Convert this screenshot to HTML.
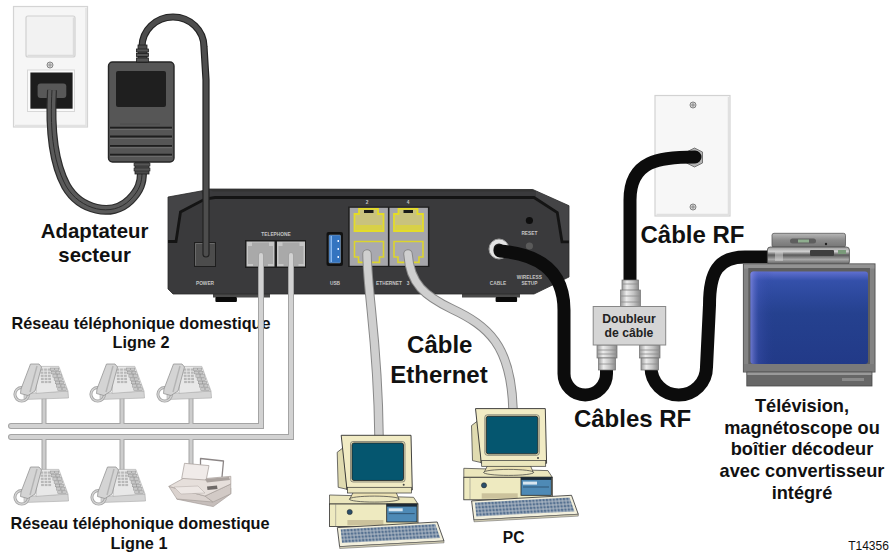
<!DOCTYPE html>
<html><head><meta charset="utf-8">
<style>
html,body{margin:0;padding:0;background:#fff;width:895px;height:557px;overflow:hidden}
svg{display:block}
text{font-family:"Liberation Sans",sans-serif;font-weight:bold;fill:#111}
.lbl{font-size:4.8px;fill:#c4c4c4;font-weight:bold}
</style></head><body>
<svg width="895" height="557" viewBox="0 0 895 557">
<defs>
 <linearGradient id="tvg" x1="0" y1="0" x2="0" y2="1">
  <stop offset="0" stop-color="#8a8a8a"/><stop offset="1" stop-color="#5a5a5a"/>
 </linearGradient>
 <linearGradient id="scr" x1="0" y1="0" x2="0" y2="1">
  <stop offset="0" stop-color="#6070d0"/><stop offset="0.1" stop-color="#3450aa"/><stop offset="0.45" stop-color="#25418f"/><stop offset="1" stop-color="#223a88"/>
 </linearGradient>
 <linearGradient id="scrL" x1="0" y1="0" x2="1" y2="0">
  <stop offset="0" stop-color="#8a90e8" stop-opacity="0.7"/><stop offset="0.07" stop-color="#5060c8" stop-opacity="0.25"/><stop offset="0.2" stop-color="#3040a0" stop-opacity="0"/>
 </linearGradient>
 <linearGradient id="stb2" x1="0" y1="0" x2="0" y2="1">
  <stop offset="0" stop-color="#b8b8b8"/><stop offset="0.5" stop-color="#8a8a8a"/><stop offset="1" stop-color="#767676"/>
 </linearGradient>
 <linearGradient id="metal" x1="0" y1="0" x2="1" y2="0">
  <stop offset="0" stop-color="#9a9a9a"/><stop offset="0.3" stop-color="#ececec"/><stop offset="0.65" stop-color="#c4c4c4"/><stop offset="1" stop-color="#8a8a8a"/>
 </linearGradient>
 <linearGradient id="tvb" x1="0" y1="0" x2="0" y2="1">
  <stop offset="0" stop-color="#9a9a9a"/><stop offset="1" stop-color="#6e6e6e"/>
 </linearGradient>
 <linearGradient id="stb" x1="0" y1="0" x2="0" y2="1">
  <stop offset="0" stop-color="#9a9a9a"/><stop offset="0.25" stop-color="#d0d0d0"/><stop offset="0.45" stop-color="#5a5a5a"/><stop offset="0.7" stop-color="#a8a8a8"/><stop offset="1" stop-color="#555"/>
 </linearGradient>
 <g id="phone">
 <polygon points="11,30.5 55,28 55.5,35 11,36.5" fill="#d4d4d4" stroke="#a8a8a8" stroke-width="0.6"/>
 <polygon points="24.7,3.4 45.8,3.4 55,28 23,30.4" fill="#e8e8e8" stroke="#a8a8a8" stroke-width="0.6"/>
 <g fill="#b8b8b8">
  <rect x="27.5" y="5.5" width="2.8" height="2.2"/>
  <rect x="31.1" y="5.5" width="2.8" height="2.2"/>
  <rect x="34.7" y="5.5" width="2.8" height="2.2"/>
  <rect x="27.6" y="8.6" width="2.8" height="2.2"/>
  <rect x="31.2" y="8.6" width="2.8" height="2.2"/>
  <rect x="34.9" y="8.6" width="2.8" height="2.2"/>
  <rect x="27.8" y="11.7" width="2.8" height="2.2"/>
  <rect x="31.4" y="11.7" width="2.8" height="2.2"/>
  <rect x="35.0" y="11.7" width="2.8" height="2.2"/>
  <rect x="27.9" y="14.8" width="2.8" height="2.2"/>
  <rect x="31.6" y="14.8" width="2.8" height="2.2"/>
  <rect x="35.2" y="14.8" width="2.8" height="2.2"/>
  <rect x="28.1" y="17.9" width="2.8" height="2.2"/>
  <rect x="31.7" y="17.9" width="2.8" height="2.2"/>
  <rect x="35.3" y="17.9" width="2.8" height="2.2"/>
 </g>
 <g fill="#c8c8c8" stroke="#8c8c8c" stroke-width="0.45">
  <rect x="37.4" y="5.0" width="4" height="2.6"/>
  <rect x="41.8" y="5.0" width="4" height="2.6"/>
  <rect x="38.6" y="8.3" width="4" height="2.6"/>
  <rect x="43.0" y="8.3" width="4" height="2.6"/>
  <rect x="39.9" y="11.6" width="4" height="2.6"/>
  <rect x="44.3" y="11.6" width="4" height="2.6"/>
  <rect x="41.1" y="14.9" width="4" height="2.6"/>
  <rect x="45.5" y="14.9" width="4" height="2.6"/>
  <rect x="42.3" y="18.2" width="4" height="2.6"/>
  <rect x="46.7" y="18.2" width="4" height="2.6"/>
  <rect x="43.6" y="21.5" width="4" height="2.6"/>
  <rect x="48.0" y="21.5" width="4" height="2.6"/>
  <rect x="44.8" y="24.8" width="4" height="2.6"/>
  <rect x="49.2" y="24.8" width="4" height="2.6"/>
 </g>
 <circle cx="8.7" cy="31.3" r="6.8" fill="none" stroke="#a6a6a6" stroke-width="3"/>
 <circle cx="8.7" cy="31.3" r="6.8" fill="none" stroke="#d6d6d6" stroke-width="1.2"/>
 <polygon points="17.5,1 26,1 28.5,4 22,28 15,32.5 7.5,30.5 8,26" fill="#d4d4d4" stroke="#949494" stroke-width="0.8"/>
 <line x1="24" y1="3" x2="17" y2="29" stroke="#b4b4b4" stroke-width="1.4"/>
 </g>
 <pattern id="keys" x="0" y="0" width="3.4" height="3.6" patternUnits="userSpaceOnUse" patternTransform="skewY(-3.2) skewX(8)">
  <rect width="3.4" height="3.6" fill="#b4bec8"/><rect x="0.5" y="0.5" width="2.5" height="2.6" fill="#557090"/>
 </pattern>
 <g id="pc">
  <!-- base -->
  <polygon points="-10.2,59.7 73.9,62 78.3,68.7 -10.2,68.7" fill="#ebe6bc" stroke="#3a3a3a" stroke-width="0.7"/>
  <rect x="-10.2" y="68.7" width="88.5" height="22.5" fill="#eeeac0" stroke="#2e2e2e" stroke-width="0.8"/>
  <line x1="-4" y1="68.7" x2="-4" y2="91.2" stroke="#777" stroke-width="0.5"/>
  <rect x="47" y="68.7" width="30.3" height="18" fill="#4e8ab6" stroke="#222" stroke-width="0.8"/>
  <rect x="47" y="68.7" width="30.3" height="2.6" fill="#1c2a36"/>
  <rect x="49" y="73" width="14" height="3" fill="#d8e6f0"/>
  <rect x="49" y="78" width="26" height="0.8" fill="#2a4a66"/>
  <circle cx="10" cy="76.7" r="2.6" fill="#2a4e6a" stroke="#222" stroke-width="0.5"/>
  <rect x="7.7" y="84.7" width="36" height="5.4" fill="#cbc29c"/>
  <!-- stand -->
  <polygon points="14,56 56,56 59.3,64 10,64" fill="#ede3b4" stroke="#3a3a3a" stroke-width="0.7"/>
  <ellipse cx="34.6" cy="63.8" rx="25" ry="3" fill="#ece7bf" stroke="#3a3a3a" stroke-width="0.7"/>
  <!-- monitor -->
  <polygon points="-2.5,17 4,12 7.3,54 -1.5,52" fill="#e0dbb0" stroke="#333" stroke-width="0.7"/>
  <polygon points="1.5,0 71.3,0 72.6,54.7 7.3,54.7" fill="#f1ebc4" stroke="#2e2e2e" stroke-width="0.9"/>
  <rect x="7.7" y="52" width="64" height="5.7" fill="#ebe6bd" stroke="#333" stroke-width="0.7"/>
  <rect x="10.8" y="6.2" width="54.5" height="40.5" rx="2.5" fill="#e2ddb4" stroke="#555" stroke-width="0.6"/>
  <rect x="12.3" y="7.7" width="51.5" height="37.5" rx="2" fill="#05566f" stroke="#222" stroke-width="0.8"/>
  <circle cx="64" cy="49.5" r="1" fill="#444"/>
  <!-- keyboard -->
  <polygon points="-2.4,92.3 97.5,86.7 104.3,105.7 -0.1,111.4" fill="#f2efdc" stroke="#2e2e2e" stroke-width="0.8"/>
  <polygon points="1,94 95.5,88.8 100.5,102.8 2.3,107.8" fill="url(#keys)"/>
  <polygon points="-0.1,111.4 104.3,105.7 104.3,107.5 0,113.2" fill="#d8d3b8" stroke="#555" stroke-width="0.5"/>
 </g>
</defs>

<!-- ===== left wall outlet ===== -->
<rect x="13.5" y="6.5" width="74" height="120.5" fill="#f6f6f6" stroke="#d4d4d4" stroke-width="1.2"/>
<path d="M15 125.5 L86 125.5 L86 8" fill="none" stroke="#e2e2e2" stroke-width="1.5"/>
<rect x="26" y="16" width="49" height="41" rx="2" fill="#f2f2f2" stroke="#d0d0d0" stroke-width="1.2"/>
<path d="M27.5 55.5 L73.5 55.5 L73.5 17.5" fill="none" stroke="#dcdcdc" stroke-width="1.4"/>
<circle cx="50" cy="65" r="3" fill="#d8d8d8" stroke="#7a7a7a" stroke-width="0.9"/>
<path d="M48 65 L52 65 M50 63 L50 67" stroke="#777" stroke-width="0.6"/>
<rect x="27.5" y="70" width="47" height="41.5" fill="#fafafa" stroke="#d8d8d8" stroke-width="1"/>
<rect x="30.4" y="72.5" width="42.2" height="36.2" fill="#1c1c1c"/>
<rect x="37.6" y="83.6" width="28.7" height="14.4" rx="3" fill="#585858"/>

<!-- cord outlet -> adapter -->
<g fill="none">
<path d="M52 90 C50 125 52 160 66 186 C80 210 112 218 130 200 C140 190 142 182 142 172" stroke="#2c2c2c" stroke-width="10"/>
<path d="M52 90 C50 125 52 160 66 186 C80 210 112 218 130 200 C140 190 142 182 142 172" stroke="#5a5a5a" stroke-width="7.6"/>
<path d="M52 90 C50 125 52 160 66 186 C80 210 112 218 130 200 C140 190 142 182 142 172" stroke="#2c2c2c" stroke-width="1"/>
</g>

<!-- adapter -->
<rect x="135" y="160" width="14" height="14" fill="#4a4a4a" stroke="#222" stroke-width="0.8"/><rect x="134" y="163" width="16" height="3" fill="#555" stroke="#222" stroke-width="0.6"/><rect x="134" y="168" width="16" height="3" fill="#555" stroke="#222" stroke-width="0.6"/>
<rect x="108.5" y="62" width="65.5" height="100" rx="4" fill="#565656" stroke="#262626" stroke-width="1.4"/>
<rect x="116" y="71" width="50" height="36" rx="2" fill="#1f1f1f"/>
<line x1="120" y1="124" x2="160" y2="124" stroke="#4a4a4a" stroke-width="0.8"/>
<g stroke="#6a6a6a" stroke-width="1.2">
 <line x1="110" y1="129.5" x2="172" y2="129.5"/><line x1="110" y1="138.4" x2="172" y2="138.4"/>
 <line x1="110" y1="147.6" x2="172" y2="147.6"/><line x1="110" y1="156.5" x2="172" y2="156.5"/>
</g>
<g stroke="#1e1e1e" stroke-width="1.8">
 <line x1="110" y1="127.6" x2="172" y2="127.6"/><line x1="110" y1="136.5" x2="172" y2="136.5"/>
 <line x1="110" y1="145.8" x2="172" y2="145.8"/><line x1="110" y1="154.7" x2="172" y2="154.7"/>
</g>

<!-- ===== modem ===== -->
<rect x="213" y="292" width="57" height="5.5" fill="#4a4a4a"/>
<rect x="462" y="292" width="58" height="5.5" fill="#4a4a4a"/>
<rect x="215.4" y="297" width="21.5" height="5" rx="1" fill="#0a0a0a"/>
<rect x="495.6" y="297" width="21.5" height="5" rx="1" fill="#0a0a0a"/>
<path d="M168 197 L201 191 L209 189 L532.8 189.5 L569 205.7 L569 277 L534 294 L173 294 L168 289 Z" fill="#3a3a3c" stroke="#2a2a2a" stroke-width="0.8"/>
<path d="M168.5 197.5 L201 191.5 L205 199 L180.5 212 L176 241.5 L168.5 241.5 Z" fill="#444446"/><path d="M536 191 L568.5 206 L568.5 241.8 L562 241.8 L557.3 212.7 L536 198.5 Z" fill="#444446"/>
<path d="M168 241.5 L176 241.5 L180.5 212 L205 199 L215 197.5 L534 197.5 L557.3 212.7 L562 241.8 L569 241.8" fill="none" stroke="#141414" stroke-width="2.8"/>
<path d="M209 189.5 L532 189.5 L536 191.5 L213 191.5 Z" fill="#333"/>

<!-- power port -->
<rect x="194.5" y="242.5" width="21" height="24" fill="#4c4c4c" stroke="#1e1e1e" stroke-width="1"/><path d="M195.5 265.5 L195.5 243.5 L214.5 243.5" fill="none" stroke="#6a6a6a" stroke-width="1"/>
<text class="lbl" x="205" y="285" text-anchor="middle">POWER</text>
<!-- telephone -->
<text class="lbl" x="276" y="236" text-anchor="middle">TELEPHONE</text>
<rect x="245" y="240" width="61" height="28" fill="#1d1d1d"/>
<rect x="246.5" y="241.5" width="28" height="25" fill="#c6c6c6"/>
<path d="M252 242.5 L269 242.5 L269 246 L273 246 L273 264 L268 264 L268 266 L253 266 L253 264 L248 264 L248 246 L252 246 Z" fill="#a9a9a9"/>
<rect x="277" y="241.5" width="28" height="25" fill="#c6c6c6"/>
<path d="M282.5 242.5 L299.5 242.5 L299.5 246 L303.5 246 L303.5 264 L298.5 264 L298.5 266 L283.5 266 L283.5 264 L278.5 264 L278.5 246 L282.5 246 Z" fill="#a9a9a9"/>
<!-- usb -->
<rect x="326.5" y="232" width="16.5" height="34" rx="2" fill="#111"/>
<rect x="329" y="235" width="11.5" height="28" rx="1" fill="#3474c0" stroke="#9ab" stroke-width="0.5"/>
<rect x="330.5" y="236" width="1.5" height="26" fill="#8ab8ee"/><g fill="#e8f0ff"><rect x="337.5" y="240" width="1.5" height="2"/><rect x="337.5" y="248" width="1.5" height="2"/><rect x="337.5" y="256" width="1.5" height="2"/></g>
<text class="lbl" x="335" y="285" text-anchor="middle">USB</text>
<!-- ethernet -->
<text class="lbl" x="367" y="204" text-anchor="middle">2</text>
<text class="lbl" x="408" y="204" text-anchor="middle">4</text>
<rect x="348.2" y="206.5" width="81.2" height="60.5" fill="#1e1e1e"/>
<rect x="349.7" y="207.8" width="38.2" height="58" fill="#a6a6aa"/>
<rect x="389.5" y="207.8" width="38.4" height="58" fill="#a6a6aa"/>
<g fill="#c9c27e" stroke="#e4dc28" stroke-width="1.8">
 <path d="M354.5 214 L359 214 L359 208.8 L378 208.8 L378 214 L383.5 214 L383.5 231 L354.5 231 Z"/>
 <path d="M394 214 L398.5 214 L398.5 208.8 L417.5 208.8 L417.5 214 L423 214 L423 231 L394 231 Z"/>
</g>
<g fill="#d8d048"><rect x="356" y="225" width="26" height="5"/><rect x="395.5" y="225" width="26" height="5"/></g>
<g fill="#1a1a1a"><rect x="364" y="210" width="9.5" height="3"/><rect x="403.5" y="210" width="9.5" height="3"/></g>
<g fill="#a9a9b0" stroke="#dcd42e" stroke-width="1.6">
 <path d="M354.5 241.5 L383.5 241.5 L383.5 257 L379.5 257 L379.5 262.4 L358.5 262.4 L358.5 257 L354.5 257 Z"/>
 <path d="M394 241.5 L423 241.5 L423 257 L419 257 L419 262.4 L398 262.4 L398 257 L394 257 Z"/>
</g>
<text class="lbl" x="389" y="285" text-anchor="middle">ETHERNET</text>
<text class="lbl" x="408" y="285" text-anchor="middle">3</text>
<!-- reset / wireless -->
<circle cx="529.4" cy="220.5" r="3.6" fill="#0e0e0e"/>
<text class="lbl" x="529.4" y="235" text-anchor="middle">RESET</text>
<circle cx="529.4" cy="246" r="3.6" fill="#5a5a5a"/>
<text class="lbl" x="529.4" y="279" text-anchor="middle">WIRELESS</text>
<text class="lbl" x="529.4" y="285" text-anchor="middle">SETUP</text>
<text class="lbl" x="498" y="285" text-anchor="middle">CABLE</text>
<circle cx="499" cy="249" r="10" fill="#e4e4e4" stroke="#9a9a9a" stroke-width="1"/>
<circle cx="499" cy="249" r="5.5" fill="#202020"/>

<!-- power cord adapter -> modem -->
<path d="M142 52 L142 47 C142 30.4 155.9 17 173 17 C190.1 17 204 30.4 204 47 L206 80 L206 254" fill="none" stroke="#222" stroke-width="7.2" stroke-linecap="round" stroke-linejoin="round"/>
<path d="M142 52 L142 47 C142 30.4 155.9 17 173 17 C190.1 17 204 30.4 204 47 L206 80 L206 254" fill="none" stroke="#4d4d4d" stroke-width="4.8" stroke-linecap="round" stroke-linejoin="round"/>
<g stroke="#1e1e1e" stroke-width="0.8">
<rect x="138" y="45" width="9" height="17" fill="#4a4a4a"/>
<rect x="136.5" y="49" width="12" height="3" fill="#555"/>
<rect x="136.5" y="53.5" width="12" height="3" fill="#555"/>
<rect x="136.5" y="58" width="12" height="4" fill="#555"/>
</g>

<text x="141" y="328.7" text-anchor="middle" style="font-size:16.25px">Réseau téléphonique domestique</text>
<text x="141" y="347.5" text-anchor="middle" style="font-size:16.25px">Ligne 2</text>
<!-- ===== phone lines ===== -->
<g fill="none" stroke-linejoin="miter">
 <path d="M261 255 L261 426 L11 426" stroke="#a4a4a4" stroke-width="6" stroke-linecap="round"/>
 <path d="M261 255 L261 426 L11 426" stroke="#d2d2d2" stroke-width="4" stroke-linecap="round"/>
 <path d="M291 255 L291 437 L11 437" stroke="#a4a4a4" stroke-width="6" stroke-linecap="round"/>
 <path d="M291 255 L291 437 L11 437" stroke="#d2d2d2" stroke-width="4" stroke-linecap="round"/>
</g>
<g stroke="#a4a4a4" stroke-width="5">
 <line x1="44" y1="396" x2="44" y2="424"/><line x1="122" y1="396" x2="122" y2="424"/><line x1="191" y1="396" x2="191" y2="424"/>
 <line x1="44" y1="439" x2="44" y2="470"/><line x1="122" y1="439" x2="122" y2="470"/><line x1="191" y1="439" x2="191" y2="465"/>
</g>
<g stroke="#cdcdcd" stroke-width="3">
 <line x1="44" y1="396" x2="44" y2="424"/><line x1="122" y1="396" x2="122" y2="424"/><line x1="191" y1="396" x2="191" y2="424"/>
 <line x1="44" y1="439" x2="44" y2="470"/><line x1="122" y1="439" x2="122" y2="470"/><line x1="191" y1="439" x2="191" y2="465"/>
</g>
<use href="#phone" x="13" y="363"/>
<use href="#phone" x="89" y="363"/>
<use href="#phone" x="156" y="363"/>
<use href="#phone" x="13" y="466"/>
<use href="#phone" x="90" y="466"/>
<!-- fax -->
<g stroke-linejoin="round">
 <path d="M200.5 477 L200.5 458.5 L223.5 461 L222 477" fill="none" stroke="#8c8686" stroke-width="1.3"/>
 <polygon points="176.9,499.2 213.3,506.6 230.8,493.8 230.8,488 213,500 176,494" fill="#c6bebb" stroke="#9a928f" stroke-width="0.6"/>
 <polygon points="168.8,486.4 205,496 213,502 176.9,499" fill="#dad2ce" stroke="#a09894" stroke-width="0.6"/>
 <polygon points="205,496 230.8,484 230.8,493.8 213,502" fill="#d2cac6" stroke="#a09894" stroke-width="0.6"/>
 <polygon points="168.8,486.4 184,478 206,478.5 230.8,476.3 230.8,484 205,496" fill="#e6dfdb" stroke="#a39b97" stroke-width="0.7"/>
 <polygon points="184.5,463.3 209,465.6 206.2,480 181.7,478.4" fill="#f0ebe9" stroke="#a39b97" stroke-width="0.7"/>
 <polygon points="205,479 229,477 230,480 207,482.5" fill="#aaa29e"/>
 <polygon points="174,487 198,486 205,493 181,494" fill="#ede7e4" stroke="#b0a8a4" stroke-width="0.5"/>
 <polygon points="207,486.5 217,485.5 217.5,489 207.5,490" fill="#6f6a68"/>
</g>

<!-- ===== ethernet cables ===== -->
<path d="M367 254 C368 300 378 340 379 436" fill="none" stroke="#888" stroke-width="9.5" stroke-linecap="round"/>
<path d="M367 254 C368 300 378 340 379 436" fill="none" stroke="#cfcfcf" stroke-width="7.5" stroke-linecap="round"/>
<path d="M408 254 C410 284 425 296 452 309 C488 326 511 345 513 409" fill="none" stroke="#888" stroke-width="9.5" stroke-linecap="round"/>
<path d="M408 254 C410 284 425 296 452 309 C488 326 511 345 513 409" fill="none" stroke="#cfcfcf" stroke-width="7.5" stroke-linecap="round"/>
<use href="#pc" x="339.7" y="435.3"/>
<use href="#pc" x="474" y="408.6"/>

<!-- ===== right wall plate ===== -->
<rect x="655" y="95.5" width="75" height="120.5" fill="#f7f7f7" stroke="#d2d2d2" stroke-width="1.2"/>
<path d="M656.5 214.5 L728.5 214.5 L728.5 97" fill="none" stroke="#e0e0e0" stroke-width="1.5"/>
<circle cx="693" cy="105" r="3" fill="#d6d6d6" stroke="#777" stroke-width="0.9"/><path d="M691 105 L695 105 M693 103 L693 107" stroke="#666" stroke-width="0.6"/>
<circle cx="693" cy="207" r="3" fill="#d6d6d6" stroke="#777" stroke-width="0.9"/><path d="M691 207 L695 207 M693 205 L693 209" stroke="#666" stroke-width="0.6"/>
<polygon points="686.5,152 694.5,148 702.5,152 702.5,163 694.5,167 686.5,163" fill="#b4b4b4" stroke="#6a6a6a" stroke-width="0.9"/>

<!-- ===== RF cables ===== -->
<g fill="none" stroke="#0c0c0c" stroke-width="13" stroke-linecap="round">
 <path d="M695 157 C660 157 630 160 630 200 L630 285"/>
 <path d="M500 251 C535 254 564 268 564 310 L564 373.75 A21.25 21.25 0 0 0 606.5 373.75 L606.5 365"/>
 <path d="M651 365 L651 367.25 A27.75 27.75 0 0 0 706.5 367.25 L709.5 305 C709.5 272 718 257 745 257 L770 257"/>
</g>

<!-- splitter -->
<g stroke="#6e6e6e" stroke-width="0.7">
<rect x="622" y="280" width="16.5" height="11" fill="url(#metal)"/>
<rect x="620.6" y="290" width="19.8" height="17" fill="url(#metal)"/>
<rect x="597" y="345" width="20" height="13" fill="url(#metal)"/>
<rect x="598.5" y="358" width="17" height="12" fill="url(#metal)"/>
<rect x="639.5" y="345" width="20.5" height="13" fill="url(#metal)"/>
<rect x="641" y="358" width="17.5" height="12" fill="url(#metal)"/>
</g>
<g stroke="#8a8a8a" stroke-width="0.8">
<line x1="622" y1="284" x2="638.5" y2="284"/><line x1="620.6" y1="296" x2="640.4" y2="296"/><line x1="620.6" y1="302" x2="640.4" y2="302"/>
<line x1="597" y1="350" x2="617" y2="350"/><line x1="597" y1="354" x2="617" y2="354"/><line x1="598.5" y1="364" x2="615.5" y2="364"/>
<line x1="639.5" y1="350" x2="660" y2="350"/><line x1="639.5" y1="354" x2="660" y2="354"/><line x1="641" y1="364" x2="658.5" y2="364"/>
</g>
<rect x="593.2" y="306.5" width="72.5" height="38.5" fill="#d5d5d5" stroke="#878787" stroke-width="1"/>
<text x="629" y="323" text-anchor="middle" style="font-size:12.2px;fill:#222">Doubleur</text>
<text x="629" y="336.5" text-anchor="middle" style="font-size:12.2px;fill:#222">de câble</text>

<!-- ===== TV ===== -->
<rect x="772" y="233.3" width="73.5" height="14" rx="2" fill="url(#stb2)" stroke="#5a5a5a" stroke-width="0.8"/>
<rect x="790" y="238.5" width="26" height="5" rx="2.5" fill="#5e5e5e"/><rect x="798" y="239.5" width="11" height="3" fill="#8fae8f"/>
<circle cx="826" cy="244" r="1.2" fill="#222"/>
<rect x="767.4" y="247" width="82" height="17.8" rx="3" fill="url(#stb)" stroke="#4a4a4a" stroke-width="0.8"/>
<rect x="810" y="250" width="24" height="6" rx="1" fill="#3e3e3e"/>
<rect x="838" y="250" width="8" height="4" fill="#7a9a7a"/>
<rect x="775" y="252" width="8" height="9" fill="#d8d8d8" opacity="0.5"/>
<rect x="743.4" y="263.9" width="131.6" height="108.1" fill="#838383" stroke="#555" stroke-width="1"/>
<rect x="744" y="264.5" width="130.4" height="4" fill="#939393"/>
<rect x="748.3" y="268" width="121.7" height="98" fill="#5e5e5e"/>
<rect x="750.5" y="271.5" width="117.5" height="92.5" rx="3" fill="url(#scr)"/>
<rect x="750.5" y="271.5" width="117.5" height="92.5" rx="3" fill="url(#scrL)"/>
<rect x="744" y="364" width="130.4" height="7.5" fill="#7a7a7a"/>
<rect x="746.8" y="372" width="125.2" height="14" fill="#676767" stroke="#4a4a4a" stroke-width="0.8"/>
<rect x="747.3" y="372.5" width="124.2" height="2.5" fill="#9a9a9a"/>
<rect x="842" y="378" width="22" height="3" fill="#8a8a8a"/>

<!-- ===== texts ===== -->
<text x="94.6" y="237.5" text-anchor="middle" style="font-size:20.4px">Adaptateur</text>
<text x="94.6" y="262.2" text-anchor="middle" style="font-size:20.4px">secteur</text>
<text x="140" y="529" text-anchor="middle" style="font-size:16.25px">Réseau téléphonique domestique</text>
<text x="139" y="548.5" text-anchor="middle" style="font-size:16.25px">Ligne 1</text>
<text x="439.8" y="353.4" text-anchor="middle" style="font-size:24px">Câble</text>
<text x="439" y="382.9" text-anchor="middle" style="font-size:24px">Ethernet</text>
<text x="513.6" y="543.3" text-anchor="middle" style="font-size:15.6px">PC</text>
<text x="692.5" y="242.5" text-anchor="middle" style="font-size:24px">Câble RF</text>
<text x="632.6" y="426.8" text-anchor="middle" style="font-size:24px">Câbles RF</text>
<text x="802" y="411.8" text-anchor="middle" style="font-size:18.2px">Télévision,</text>
<text x="802" y="433.5" text-anchor="middle" style="font-size:18.2px">magnétoscope ou</text>
<text x="802" y="455.2" text-anchor="middle" style="font-size:18.2px">boîtier décodeur</text>
<text x="802" y="476.9" text-anchor="middle" style="font-size:18.2px">avec convertisseur</text>
<text x="802" y="498.6" text-anchor="middle" style="font-size:18.2px">intégré</text>
<text x="868.5" y="550.3" text-anchor="middle" style="font-size:12px;font-weight:normal">T14356</text>
</svg>
</body></html>
